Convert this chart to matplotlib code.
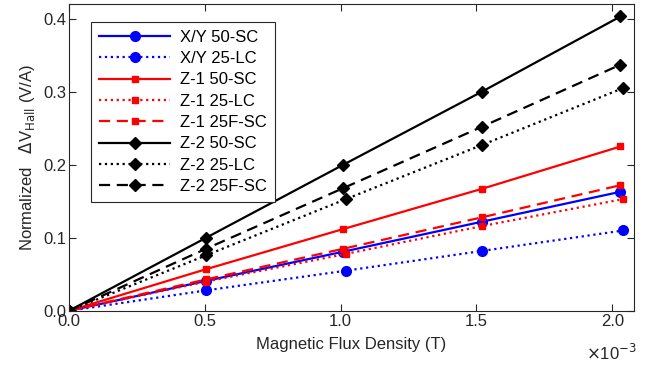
import numpy as np
import matplotlib.pyplot as plt

plt.rcParams['font.family'] = ['Liberation Sans', 'DejaVu Sans']

# ── DATA ──────────────────────────────────────────────────────────────────────
field = [0.0, 0.505e-3, 1.01e-3, 1.52e-3, 2.03e-3]
field_lc = [0.0, 0.505e-3, 1.02e-3, 1.52e-3, 2.04e-3]

xy_50sc = [0.0, 0.041, 0.081, 0.122, 0.163]
xy_25lc = [0.0, 0.028, 0.055, 0.082, 0.110]
z1_50sc = [0.0, 0.057, 0.112, 0.167, 0.225]
z1_25lc = [0.0, 0.040, 0.078, 0.116, 0.153]
z1_25fsc = [0.0, 0.043, 0.085, 0.128, 0.172]
z2_50sc = [0.0, 0.100, 0.200, 0.300, 0.403]
z2_25lc = [0.0, 0.076, 0.153, 0.227, 0.305]
z2_25fsc = [0.0, 0.085, 0.168, 0.252, 0.337]

BLUE = "#0000FF"
RED = "#FF0000"
BLACK = "#000000"
AXC = "#262626"

series = [
    ("X/Y 50-SC", field, xy_50sc, BLUE, "-", "o", 7),
    ("X/Y 25-LC", field_lc, xy_25lc, BLUE, ":", "o", 7),
    ("Z-1 50-SC", field, z1_50sc, RED, "-", "s", 5),
    ("Z-1 25-LC", field_lc, z1_25lc, RED, ":", "s", 5),
    ("Z-1 25F-SC", field, z1_25fsc, RED, (0, (5, 3)), "s", 5),
    ("Z-2 50-SC", field, z2_50sc, BLACK, "-", "D", 6),
    ("Z-2 25-LC", field_lc, z2_25lc, BLACK, ":", "D", 6),
    ("Z-2 25F-SC", field, z2_25fsc, BLACK, (0, (5, 3)), "D", 6),
]

fig = plt.figure(figsize=(6.49, 3.67), dpi=100)
ax = fig.add_axes([0.106, 0.153, 0.871, 0.836])

for label, x, y, c, ls, mk, ms in series:
    ax.plot(x, y, color=c, linestyle=ls, marker=mk, markersize=ms,
            linewidth=1.6, label=label)

ax.set_xlim(0, 2.08e-3)
ax.set_ylim(0, 0.42)
ax.set_xticks([0, 0.5e-3, 1.0e-3, 1.5e-3, 2.0e-3])
ax.set_xticklabels(["0.0", "0.5", "1.0", "1.5", "2.0"])
ax.set_yticks([0, 0.1, 0.2, 0.3, 0.4])
ax.set_yticklabels(["0.0", "0.1", "0.2", "0.3", "0.4"])
ax.tick_params(direction="in", top=True, right=True, labelsize=12,
               colors=AXC, length=5, width=0.8, pad=2)
for s in ax.spines.values():
    s.set_color(AXC)
    s.set_linewidth(0.8)

ax.text(1.005, -0.105, r"$\times$10$^{-3}$", transform=ax.transAxes,
        ha="right", va="top", fontsize=12, color=AXC)

ax.set_xlabel("Magnetic Flux Density (T)", fontsize=12, color=AXC,
              labelpad=6)
ax.set_ylabel(r"Normalized   $\Delta$V$_{\mathrm{Hall}}$ (V/A)", fontsize=12,
              color=AXC, labelpad=4)

leg = ax.legend(loc="upper left", bbox_to_anchor=(0.025, 0.968), fontsize=12,
                handlelength=4.3, labelspacing=0.38, borderpad=0.45,
                handletextpad=0.6, fancybox=False, framealpha=1,
                edgecolor=AXC)
leg.get_frame().set_linewidth(0.8)

fig.savefig("out.png", dpi=100)
